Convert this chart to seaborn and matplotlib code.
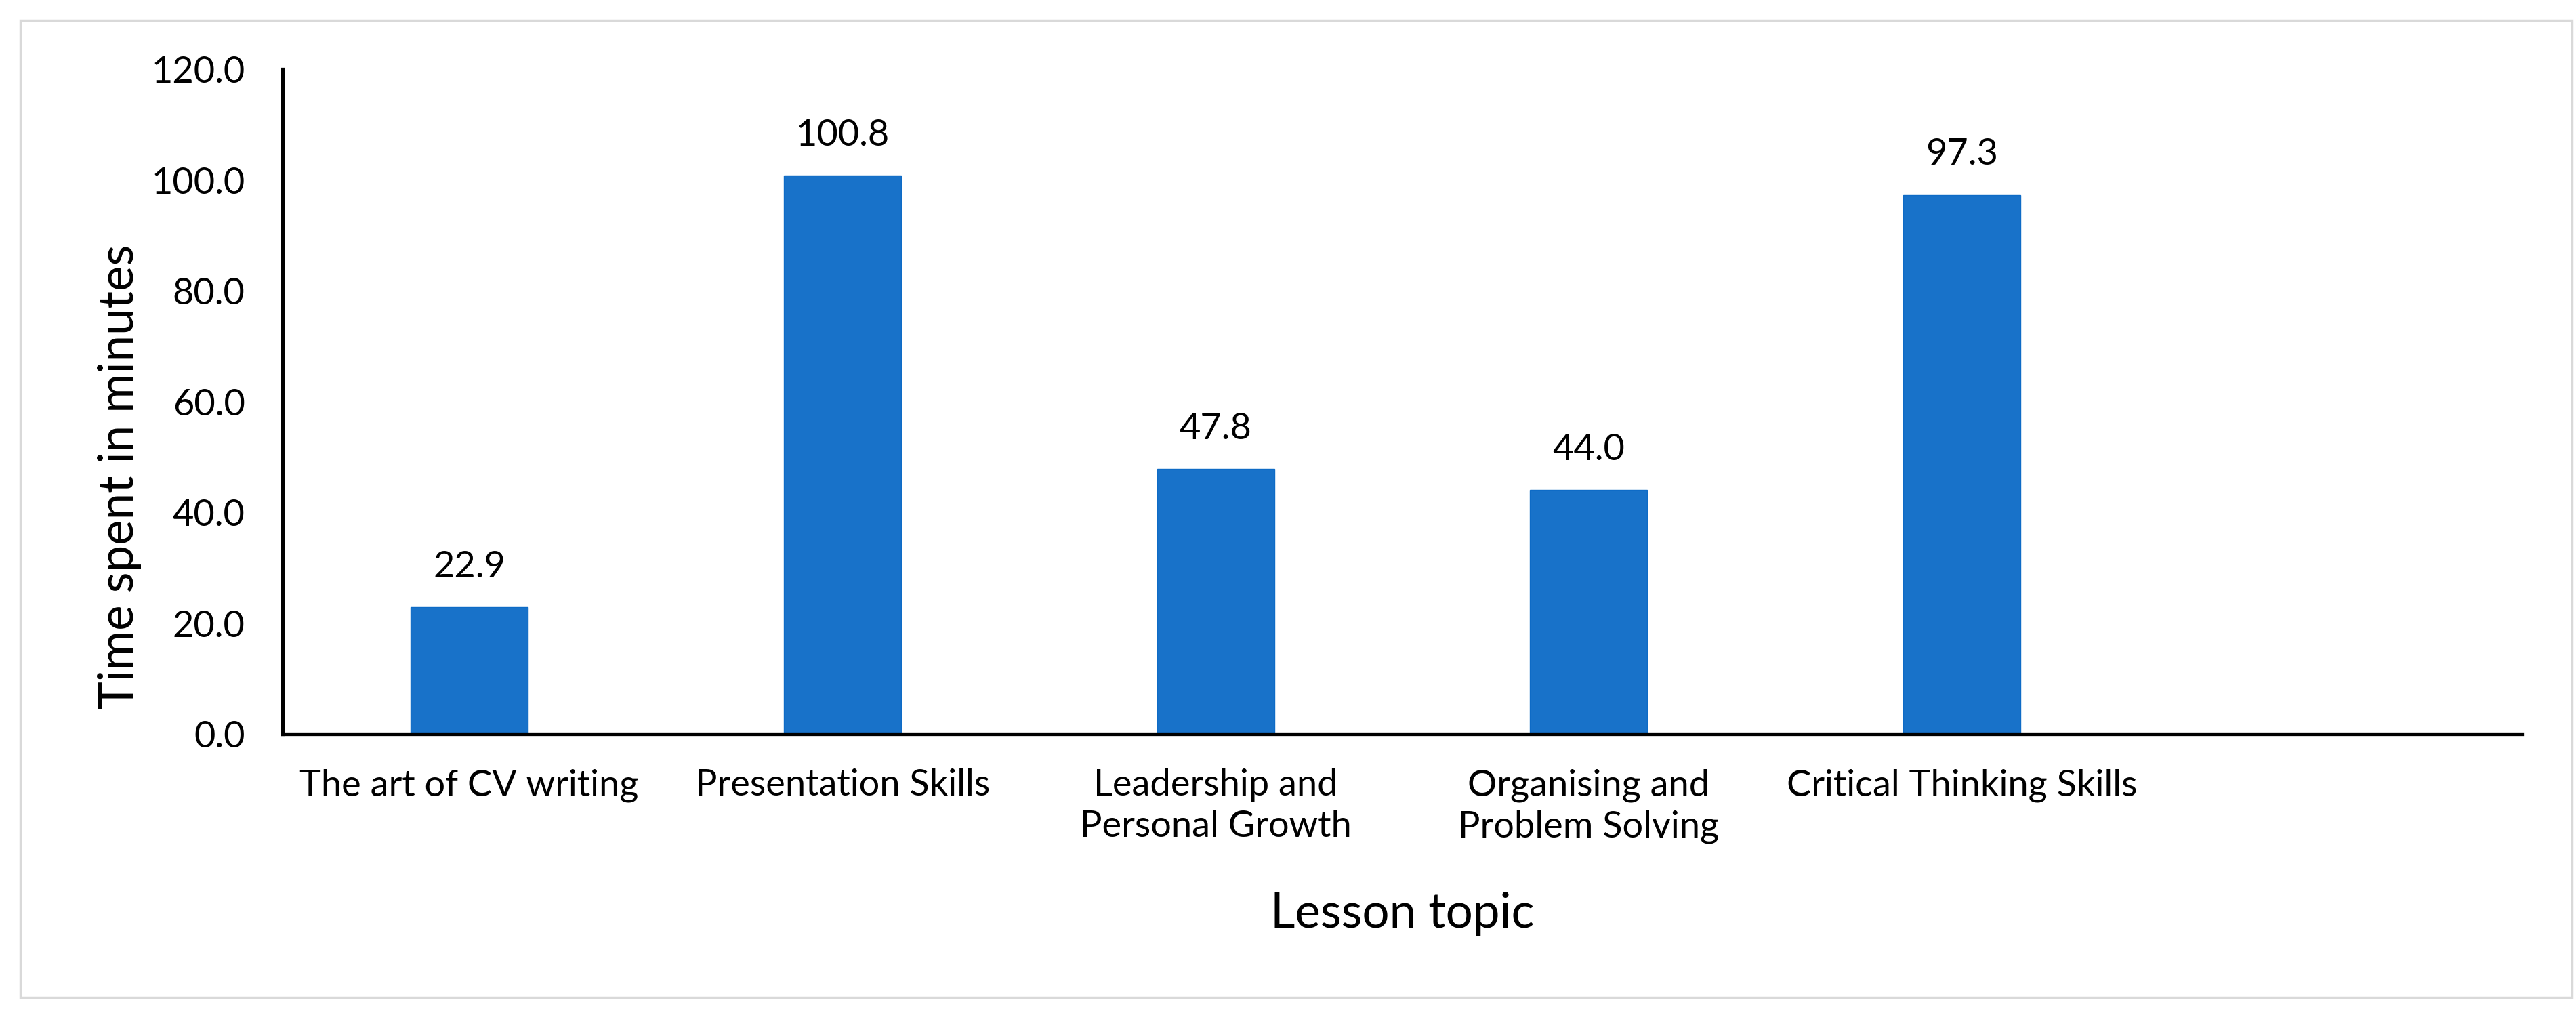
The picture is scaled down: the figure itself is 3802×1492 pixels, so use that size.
import matplotlib
matplotlib.use("Agg")
import matplotlib.pyplot as plt
import seaborn as sns
import pandas as pd
from matplotlib.patches import Rectangle

# data
topics = ["The art of CV writing", "Presentation Skills", "Leadership and\nPersonal Growth",
          "Organising and\nProblem Solving", "Critical Thinking Skills"]
minutes = [22.9, 100.8, 47.8, 44.0, 97.3]
y_ticks = [0, 20, 40, 60, 80, 100, 120]

df = pd.DataFrame({"topic": topics, "minutes": minutes})

sns.set_theme(style="white")
plt.rcParams["font.family"] = ["Lato", "DejaVu Sans"]

fig = plt.figure(figsize=(38.02, 14.92), dpi=100)
ax = fig.add_axes([0.1097, 0.2741, 0.8692, 0.6575])

sns.barplot(data=df, x="topic", y="minutes", color="#1872C9", saturation=1,
            width=0.314, ax=ax, edgecolor="#0E6BC6", linewidth=1)

for i, v in enumerate(minutes):
    ax.annotate(f"{v:.1f}", (i, v), xytext=(0, 43), textcoords="offset points",
                ha="center", va="center", fontsize=39, color="black")

ax.set_xlim(-0.5, 5.5)
ax.set_ylim(0, 120)
ax.set_yticks(y_ticks)
ax.set_yticklabels([f"{t:.1f}" for t in y_ticks])
ax.tick_params(axis="both", length=0, labelsize=39, colors="black")
ax.tick_params(axis="x", pad=37)
ax.tick_params(axis="y", pad=40)
for lab in ax.get_xticklabels():
    lab.set_linespacing(1.3)

ax.set_xlabel("Lesson topic", fontsize=51, color="black", labelpad=51)
ax.set_ylabel("Time spent in minutes", fontsize=51, color="black")
ax.yaxis.set_label_coords(-0.063, 0.387)

for s in ["top", "right"]:
    ax.spines[s].set_visible(False)
for s in ["left", "bottom"]:
    ax.spines[s].set_color("black")
    ax.spines[s].set_linewidth(3.8)

fig.patches.append(Rectangle((30 / 3802, 20 / 1492), 3766 / 3802, 1442 / 1492,
                             transform=fig.transFigure, fill=False,
                             edgecolor="#D9D9D9", linewidth=2.5))

fig.savefig("out.png", dpi=100, facecolor="white")
